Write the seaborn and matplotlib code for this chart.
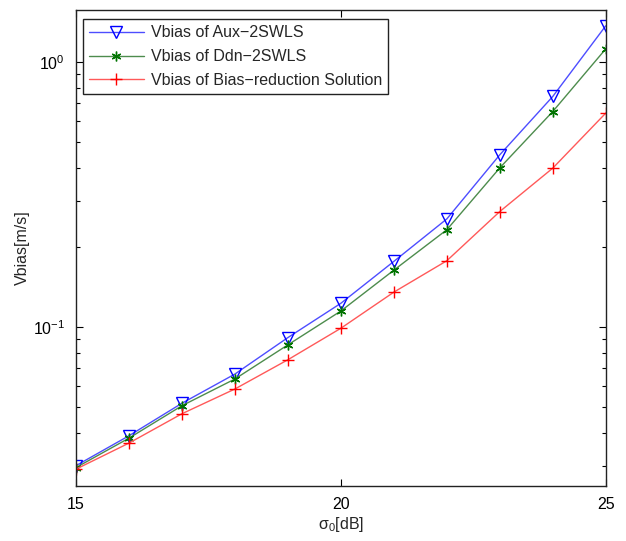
import matplotlib
matplotlib.use("Agg")
import matplotlib.pyplot as plt
import seaborn as sns
import numpy as np
import pandas as pd
from matplotlib.ticker import LogLocator, NullFormatter, FixedLocator

sigma0_db = [15, 16, 17, 18, 19, 20, 21, 22, 23, 24, 25]
vbias_aux = [0.0300, 0.0389, 0.0516, 0.0665, 0.0913, 0.123, 0.177, 0.256, 0.447, 0.742, 1.371]
vbias_ddn = [0.0295, 0.0381, 0.0505, 0.0637, 0.0857, 0.115, 0.164, 0.233, 0.399, 0.651, 1.122]
vbias_red = [0.0291, 0.0365, 0.0471, 0.0584, 0.0753, 0.099, 0.1355, 0.178, 0.273, 0.398, 0.642]
series_names = ["Vbias of Aux\u22122SWLS", "Vbias of Ddn\u22122SWLS",
                "Vbias of Bias\u2212reduction Solution"]

sns.set_style("white")
plt.rcParams["font.family"] = ["Liberation Sans", "DejaVu Sans"]
plt.rcParams["mathtext.fontset"] = "custom"
plt.rcParams["mathtext.rm"] = "Liberation Sans"

fig = plt.figure(figsize=(6.26, 5.41), dpi=100)
ax = fig.add_axes([0.1214, 0.1022, 0.8462, 0.8802])

styles = [
    dict(color=(0.3, 0.3, 1.0), marker="v", markersize=8, markerfacecolor="none",
         markeredgecolor=(0, 0, 1), markeredgewidth=1.0),
    dict(color=(0.3, 0.55, 0.3), marker=(6, 2, 0), markersize=7,
         markeredgecolor=(0, 0.45, 0), markeredgewidth=1.0),
    dict(color=(1.0, 0.35, 0.35), marker="+", markersize=9,
         markeredgecolor=(1, 0, 0), markeredgewidth=1.0),
]
for vals, name, st in zip([vbias_aux, vbias_ddn, vbias_red], series_names, styles):
    df = pd.DataFrame({"x": sigma0_db, "y": vals})
    sns.lineplot(data=df, x="x", y="y", ax=ax, label=name, linewidth=1.0, **st)

ax.set_yscale("log")
ax.set_xlim(15, 25)
ax.set_ylim(0.0252, 1.58)
ax.xaxis.set_major_locator(FixedLocator([15, 20, 25]))
ax.yaxis.set_major_locator(LogLocator(base=10, numticks=10))
ax.yaxis.set_minor_locator(LogLocator(base=10, subs=np.arange(2, 10), numticks=10))
ax.yaxis.set_minor_formatter(NullFormatter())
ax.tick_params(axis="both", which="both", direction="in", top=True, right=True,
               bottom=True, left=True, labelsize=11.5, colors="black", width=0.8)
ax.tick_params(axis="both", which="major", length=5, pad=8)
ax.tick_params(axis="y", which="minor", length=3)
for sp in ax.spines.values():
    sp.set_color("#222222")
    sp.set_linewidth(1.0)

ax.set_xlabel(r"$\mathregular{\sigma_0}$[dB]", fontsize=11.5, labelpad=2)
ax.set_ylabel("Vbias[m/s]", fontsize=11.5, labelpad=2)

leg = ax.legend(loc="upper left", bbox_to_anchor=(0.013, 0.98), fontsize=11.5,
                frameon=True, fancybox=False, edgecolor="#222222", framealpha=1,
                handlelength=3.4, borderpad=0.4, labelspacing=0.55, handletextpad=0.45,
                borderaxespad=0)
leg.get_frame().set_linewidth(1.0)

fig.savefig("out.png", dpi=100)
